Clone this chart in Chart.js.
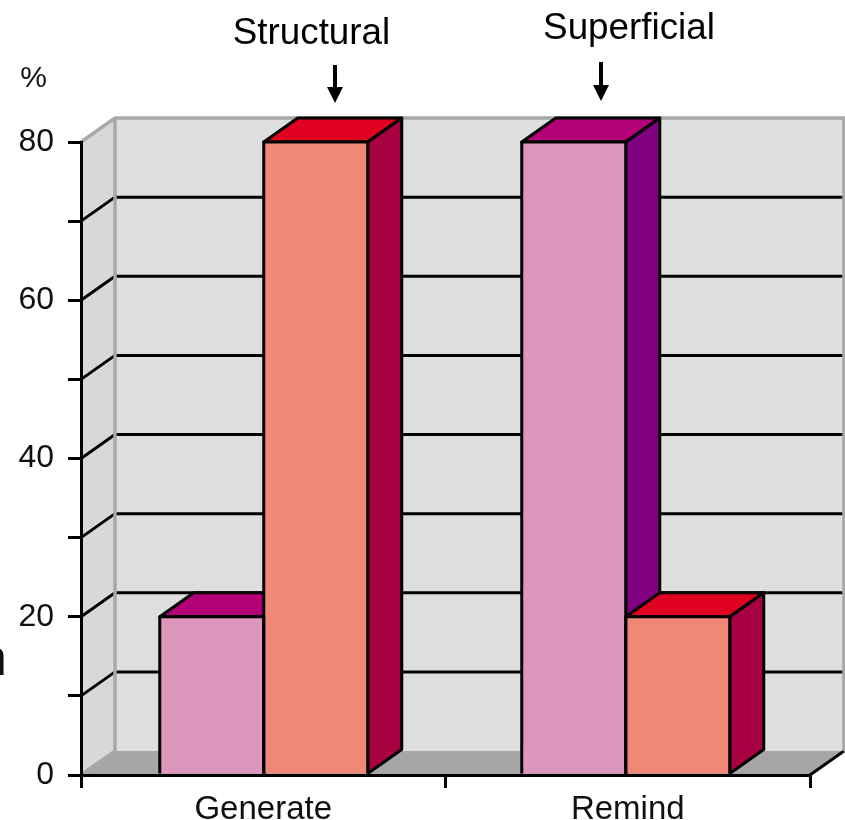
<!DOCTYPE html>
<html>
<head>
<meta charset="utf-8">
<style>html,body{margin:0;padding:0;background:#fff}canvas{display:block}</style>
<script src="https://cdn.jsdelivr.net/npm/chart.js@4/dist/chart.umd.min.js"></script>
</head>
<body>
<canvas id="c" width="845" height="820"></canvas>
<script>
const categories = ['Generate', 'Remind'];
const superficial = [20, 80];
const structural = [80, 20];
const seriesNames = ['Superficial', 'Structural'];
const yUnit = '%';
const fragment = 'n';

const DX = 34, DY = 24, LW = 3;
const groupNudge = [0.5, -2];
const FONT = '"Liberation Sans", Arial, sans-serif';
const faces = [
  { front: '#DD96BC', top: '#B40078', side: '#800080' },
  { front: '#F08878', top: '#E00020', side: '#A80040' }
];

function poly(ctx, pts, fill, stroke, lw, open) {
  ctx.beginPath();
  pts.forEach((p, i) => i ? ctx.lineTo(p[0], p[1]) : ctx.moveTo(p[0], p[1]));
  if (!open) ctx.closePath();
  if (fill) { ctx.fillStyle = fill; ctx.fill(); }
  if (stroke) { ctx.strokeStyle = stroke; ctx.lineWidth = lw; ctx.lineJoin = 'round'; ctx.stroke(); }
}
function arrow(ctx, x, y1, y2) {
  ctx.strokeStyle = '#000'; ctx.lineWidth = 4;
  ctx.beginPath(); ctx.moveTo(x, y1); ctx.lineTo(x, y2 - 12); ctx.stroke();
  poly(ctx, [[x - 8, y2 - 16], [x + 8, y2 - 16], [x, y2]], '#000');
}

const scene3d = {
  id: 'scene3d',
  afterDatasetsUpdate(chart) {
    chart.data.datasets.forEach((ds, di) => {
      chart.getDatasetMeta(di).data.forEach((bar, i) => { bar.x += groupNudge[i]; });
    });
  },
  beforeDatasetsDraw(chart) {
    const { ctx, scales: { x, y } } = chart;
    const l = x.left, r = x.right, t = y.top, b = y.bottom;
    ctx.save();
    // walls and floor
    poly(ctx, [[l + DX, t - DY], [r + DX, t - DY], [r + DX, b - DY], [l + DX, b - DY]], '#DEDEDE');
    poly(ctx, [[l, t], [l + DX, t - DY], [l + DX, b - DY], [l, b]], '#D8D8D8');
    poly(ctx, [[l, b], [l + DX, b - DY], [r + DX, b - DY], [r, b]], '#A6A6A6');
    // gridlines
    ctx.strokeStyle = '#000'; ctx.lineWidth = LW;
    y.ticks.forEach(tk => {
      if (tk.value === y.min || tk.value === y.max) return;
      const py = y.getPixelForValue(tk.value);
      ctx.beginPath();
      ctx.moveTo(l, py); ctx.lineTo(l + DX, py - DY); ctx.lineTo(r + DX, py - DY);
      ctx.stroke();
    });
    ctx.beginPath(); ctx.moveTo(r, b); ctx.lineTo(r + DX, b - DY); ctx.stroke();
    // wall edges
    ctx.strokeStyle = '#A8A8A8'; ctx.lineWidth = 3.5;
    ctx.beginPath();
    ctx.moveTo(l, t); ctx.lineTo(l + DX, t - DY); ctx.lineTo(r + DX, t - DY); ctx.lineTo(r + DX, b - DY);
    ctx.moveTo(l + DX, t - DY); ctx.lineTo(l + DX, b - DY); ctx.lineTo(l, b);
    ctx.stroke();
    // bar tops and sides, back to front
    chart.data.datasets.forEach((ds, di) => {
      chart.getDatasetMeta(di).data.forEach(bar => {
        const x1 = bar.x - bar.width / 2, x2 = bar.x + bar.width / 2, yt = bar.y, yb = bar.base;
        poly(ctx, [[x1, yt], [x1 + DX, yt - DY], [x2 + DX, yt - DY], [x2, yt]], faces[di].top, '#000', LW);
        poly(ctx, [[x2, yt], [x2 + DX, yt - DY], [x2 + DX, yb - DY], [x2, yb]], faces[di].side, '#000', LW);
      });
    });
    ctx.restore();
  },
  afterDatasetsDraw(chart) {
    const { ctx } = chart;
    ctx.save();
    chart.data.datasets.forEach((ds, di) => {
      chart.getDatasetMeta(di).data.forEach(bar => {
        const x1 = bar.x - bar.width / 2, x2 = bar.x + bar.width / 2;
        poly(ctx, [[x1, bar.base], [x1, bar.y], [x2, bar.y], [x2, bar.base]], null, '#000', LW, true);
      });
    });
    ctx.restore();
  },
  afterDraw(chart) {
    const { ctx } = chart;
    ctx.save();
    ctx.fillStyle = '#000';
    ctx.textBaseline = 'alphabetic';
    ctx.textAlign = 'center';
    ctx.font = '36.8px ' + FONT;
    ctx.fillText(seriesNames[1], 311.5, 44);
    ctx.fillText(seriesNames[0], 629, 38.5);
    ctx.fillStyle = '#111';
    ctx.font = '30px ' + FONT;
    ctx.fillText(yUnit, 33.5, 87);
    ctx.textAlign = 'right';
    ctx.font = '52px ' + FONT;
    ctx.fillText(fragment, 7, 675);
    arrow(ctx, 335, 65, 103);
    arrow(ctx, 601, 62, 101);
    ctx.restore();
  }
};

new Chart(document.getElementById('c'), {
  type: 'bar',
  data: {
    labels: categories,
    datasets: [
      { label: seriesNames[0], data: superficial, backgroundColor: faces[0].front, borderWidth: 0 },
      { label: seriesNames[1], data: structural, backgroundColor: faces[1].front, borderWidth: 0 }
    ]
  },
  plugins: [scene3d],
  options: {
    responsive: false,
    animation: false,
    devicePixelRatio: 1,
    layout: { padding: { top: 142, right: 35, left: 0, bottom: 0 } },
    plugins: { legend: { display: false }, tooltip: { enabled: false }, title: { display: false } },
    datasets: { bar: { categoryPercentage: 0.5706, barPercentage: 1 } },
    scales: {
      x: {
        afterFit(s) { s.height = 45; },
        grid: { z: 1, drawOnChartArea: false, drawTicks: true, tickLength: 13, color: '#000', lineWidth: 3 },
        border: { z: 1, color: '#000', width: 3 },
        ticks: { color: '#111', font: { family: FONT, size: 33 }, padding: 2, maxRotation: 0 }
      },
      y: {
        min: 0, max: 80,
        afterFit(s) { s.width = 81; },
        grid: { z: 1, drawOnChartArea: false, drawTicks: true, tickLength: 13, color: '#000', lineWidth: 3 },
        border: { z: 1, color: '#000', width: 3 },
        ticks: {
          stepSize: 10, autoSkip: false, color: '#111', padding: 14,
          font: { family: FONT, size: 32 },
          callback: v => (v % 20 === 0 ? v : '')
        }
      }
    }
  }
});
</script>
</body>
</html>
